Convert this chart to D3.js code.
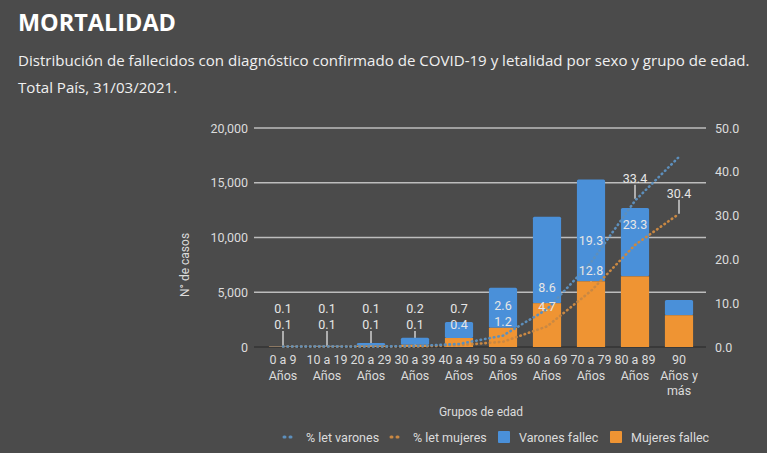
<!DOCTYPE html>
<html>
<head>
<meta charset="utf-8">
<script src="https://cdn.jsdelivr.net/npm/d3@7"></script>
<style>
  html, body { margin: 0; padding: 0; background: #4b4b4b; }
  svg { display: block; }
</style>
</head>
<body>
<svg id="chart" width="767" height="453"></svg>
<script>
const categories = ["0 a 9|Años", "10 a 19|Años", "20 a 29|Años", "30 a 39|Años", "40 a 49|Años",
  "50 a 59|Años", "60 a 69|Años", "70 a 79|Años", "80 a 89|Años", "90|Años y|más"];
const mujeresFallec = [40, 50, 120, 200, 820, 1750, 4000, 6000, 6450, 2900];
const varonesFallec = [60, 70, 250, 650, 1460, 3650, 7900, 9300, 6250, 1400];
const letVarones = [0.1, 0.1, 0.1, 0.2, 0.7, 2.6, 8.6, 19.3, 33.4, 43.4];
const letMujeres = [0.1, 0.1, 0.1, 0.1, 0.4, 1.2, 4.7, 12.8, 23.3, 30.4];
const letVaronesLabels = ["0.1", "0.1", "0.1", "0.2", "0.7", "2.6", "8.6", "19.3", "33.4", null];
const letMujeresLabels = ["0.1", "0.1", "0.1", "0.1", "0.4", "1.2", "4.7", "12.8", "23.3", "30.4"];
const leftTicks = [0, 5000, 10000, 15000, 20000];
const rightTicks = [0, 10, 20, 30, 40, 50];

const svg = d3.select("#chart");
const W = 767, H = 453;
svg.append("rect").attr("width", W).attr("height", H).attr("fill", "#4b4b4b");

const C_BLUE = "#4a90d9", C_ORANGE = "#ef9433";
const C_BLUE_LINE = "#5d8fbc", C_ORANGE_LINE = "#c98843";
const TXT = "#dcdcdc";
const FONT = "Roboto, 'Noto Sans', sans-serif";

function fitText(sel, target) {
  const fs = +sel.attr("font-size");
  const w = sel.node().getComputedTextLength();
  if (w > 0) sel.attr("font-size", (fs * target / w).toFixed(2));
}

// Titles
const t1 = svg.append("text").attr("x", 18).attr("y", 31).text("MORTALIDAD")
  .attr("fill", "#ffffff").attr("font-family", "'Open Sans', sans-serif").attr("font-weight", 700)
  .attr("font-size", 24);
fitText(t1, 158);
const t2 = svg.append("text").attr("x", 18).attr("y", 66)
  .text("Distribución de fallecidos con diagnóstico confirmado de COVID-19 y letalidad por sexo y grupo de edad.")
  .attr("fill", "#f0f0f0").attr("font-family", "'Open Sans', sans-serif").attr("font-size", 17);
fitText(t2, 732);
svg.append("text").attr("x", 18).attr("y", 93).text("Total País, 31/03/2021.")
  .attr("fill", "#f0f0f0").attr("font-family", "'Open Sans', sans-serif").attr("font-size", t2.attr("font-size"));

// Scales
const x = d3.scaleBand().domain(categories).range([261, 701]).paddingInner(0.36).paddingOuter(0.18);
const y = d3.scaleLinear().domain([0, 20000]).range([347, 128]);
const yR = d3.scaleLinear().domain([0, 50]).range([347, 128]);
const cx = c => x(c) + x.bandwidth() / 2;

// Gridlines
svg.append("g").selectAll("line").data(leftTicks.slice(1)).join("line")
  .attr("x1", 254).attr("x2", 706).attr("y1", d => y(d)).attr("y2", d => y(d))
  .attr("stroke", "#bdbdbd").attr("stroke-width", 1.3);

// Left axis
const gL = svg.append("g").attr("transform", "translate(254,0)")
  .call(d3.axisLeft(y).tickValues(leftTicks).tickFormat(d3.format(",")).tickSize(0).tickPadding(6));
gL.select(".domain").remove();
gL.selectAll("text").attr("fill", TXT).attr("font-family", FONT).attr("font-size", 12.5);

// Right axis
const gR = svg.append("g").attr("transform", "translate(706,0)")
  .call(d3.axisRight(yR).tickValues(rightTicks).tickFormat(d3.format(".1f")).tickSize(0).tickPadding(9));
gR.select(".domain").remove();
gR.selectAll("text").attr("fill", TXT).attr("font-family", FONT).attr("font-size", 12.5);

// Axis titles
svg.append("text").attr("transform", "translate(189,265) rotate(-90)").attr("text-anchor", "middle")
  .text("N° de casos").attr("fill", TXT).attr("font-family", FONT).attr("font-size", 12);
svg.append("text").attr("x", 481).attr("y", 416).attr("text-anchor", "middle")
  .text("Grupos de edad").attr("fill", TXT).attr("font-family", FONT).attr("font-size", 12);

// Label layout
const labM = categories.map((c, i) => ({ x: cx(c), py: yR(letMujeres[i]), y: Math.min(yR(letMujeres[i]) - 20, 325), t: letMujeresLabels[i] }));
const labV = categories.map((c, i) => {
  const want = yR(letVarones[i]) - 22;
  const cap = labM[i].y - 16;
  return { x: cx(c), py: yR(letVarones[i]), y: Math.min(want, cap), pushed: want > cap, t: letVaronesLabels[i] };
});

// Leader lines (behind bars)
const leaders = svg.append("g");
labM.forEach(l => {
  if (l.t && l.py - (l.y + 6) > 4)
    leaders.append("line").attr("x1", l.x).attr("x2", l.x).attr("y1", l.y + 6).attr("y2", l.py)
      .attr("stroke", "#cfcfcf").attr("stroke-width", 1.5);
});
labV.forEach(l => {
  if (l.t && !l.pushed && l.py - (l.y + 6) > 4)
    leaders.append("line").attr("x1", l.x).attr("x2", l.x).attr("y1", l.y + 6).attr("y2", l.py - 2)
      .attr("stroke", "#cfcfcf").attr("stroke-width", 1.5);
});

// Baseline
svg.append("line").attr("x1", 254).attr("x2", 706).attr("y1", y(0)).attr("y2", y(0))
  .attr("stroke", "#333333").attr("stroke-width", 1.5);

// Bars
const bars = svg.append("g");
categories.forEach((c, i) => {
  const m = mujeresFallec[i], v = varonesFallec[i];
  bars.append("rect").attr("x", x(c)).attr("width", x.bandwidth())
    .attr("y", y(m + v)).attr("height", y(m) - y(m + v)).attr("fill", C_BLUE).attr("rx", 1.5);
  bars.append("rect").attr("x", x(c)).attr("width", x.bandwidth())
    .attr("y", y(m)).attr("height", y(0) - y(m)).attr("fill", C_ORANGE);
});

// Lines
const line = d3.line().x((d, i) => cx(categories[i])).y(d => yR(d));
svg.append("path").datum(letMujeres).attr("d", line).attr("fill", "none")
  .attr("stroke", C_ORANGE_LINE).attr("stroke-width", 2.6).attr("stroke-linecap", "round").attr("stroke-dasharray", "0.5,4");
svg.append("path").datum(letVarones).attr("d", line).attr("fill", "none")
  .attr("stroke", C_BLUE_LINE).attr("stroke-width", 2.6).attr("stroke-linecap", "round").attr("stroke-dasharray", "0.5,4");

// Labels
const labG = svg.append("g").attr("font-family", FONT).attr("font-size", 12.5).attr("text-anchor", "middle");
[...labM, ...labV].forEach(l => {
  if (!l.t) return;
  labG.append("text").attr("x", l.x).attr("y", l.y).attr("dy", "0.35em").text(l.t).attr("fill", "#e6e6e6");
});

// X labels
const xl = svg.append("g").attr("font-family", FONT).attr("font-size", 12.5).attr("text-anchor", "middle").attr("fill", TXT);
categories.forEach(c => {
  c.split("|").forEach((part, k) => {
    xl.append("text").attr("x", cx(c)).attr("y", 364 + k * 15.5).text(part);
  });
});

// Legend
const lg = svg.append("g").attr("font-family", FONT).attr("font-size", 12.5).attr("fill", TXT);
const ly = 437;
lg.append("line").attr("x1", 284).attr("x2", 296).attr("y1", ly).attr("y2", ly)
  .attr("stroke", C_BLUE_LINE).attr("stroke-width", 3).attr("stroke-linecap", "round").attr("stroke-dasharray", "1,5");
lg.append("text").attr("x", 306).attr("y", ly + 4.5).text("% let varones");
lg.append("line").attr("x1", 391).attr("x2", 403).attr("y1", ly).attr("y2", ly)
  .attr("stroke", C_ORANGE_LINE).attr("stroke-width", 3).attr("stroke-linecap", "round").attr("stroke-dasharray", "1,5");
lg.append("text").attr("x", 413).attr("y", ly + 4.5).text("% let mujeres");
lg.append("rect").attr("x", 498).attr("y", ly - 6).attr("width", 12).attr("height", 12).attr("fill", C_BLUE).attr("rx", 1);
lg.append("text").attr("x", 519).attr("y", ly + 4.5).text("Varones fallec");
lg.append("rect").attr("x", 610).attr("y", ly - 6).attr("width", 12).attr("height", 12).attr("fill", C_ORANGE).attr("rx", 1);
lg.append("text").attr("x", 631).attr("y", ly + 4.5).text("Mujeres fallec");
</script>
</body>
</html>
